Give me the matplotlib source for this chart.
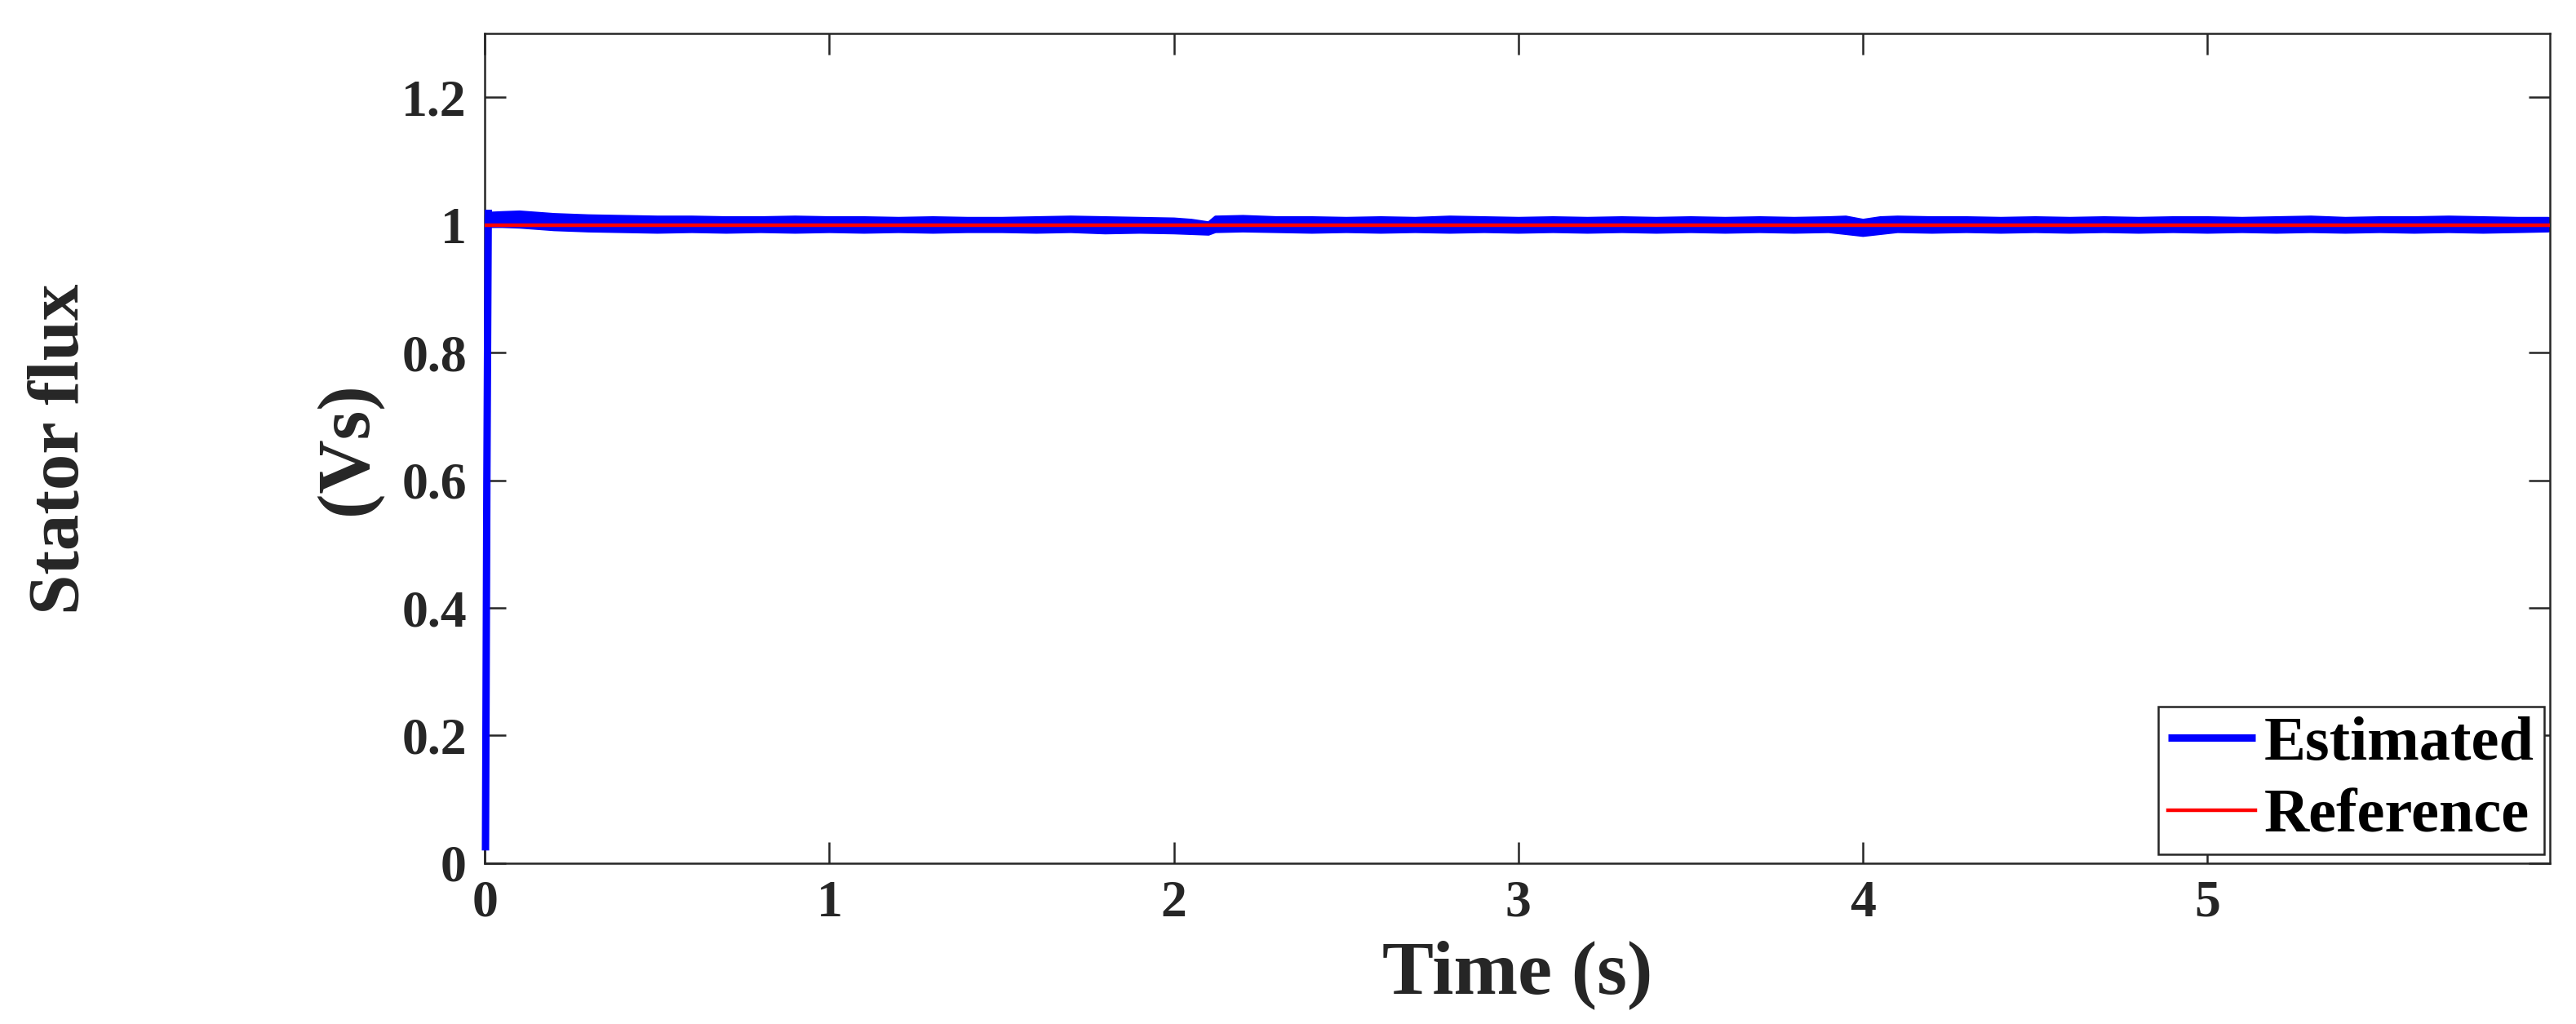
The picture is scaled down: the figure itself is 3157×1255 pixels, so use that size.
import matplotlib
matplotlib.use("Agg")
import matplotlib.pyplot as plt

plt.rcParams['font.family'] = ['Liberation Serif', 'DejaVu Serif']
plt.rcParams['font.weight'] = 'bold'

# start-up of the estimated flux
t_start = [0.002, 0.006, 0.010]
est_start = [0.02, 0.60, 1.015]

# ripple band of the estimated flux (upper / lower envelope)
t_band = [0.01, 0.05, 0.1, 0.15, 0.2, 0.25, 0.3, 0.4, 0.5, 0.6,
          0.7, 0.8, 0.9, 1.0, 1.1, 1.2, 1.3, 1.4, 1.5, 1.6,
          1.7, 1.8, 1.9, 2.0, 2.05, 2.1, 2.12, 2.2, 2.3, 2.4,
          2.5, 2.6, 2.7, 2.8, 2.9, 3.0, 3.1, 3.2, 3.3, 3.4,
          3.5, 3.6, 3.7, 3.8, 3.9, 3.95, 4.0, 4.05, 4.1, 4.2,
          4.3, 4.4, 4.5, 4.6, 4.7, 4.8, 4.9, 5.0, 5.1, 5.2,
          5.3, 5.4, 5.5, 5.6, 5.7, 5.8, 5.9, 5.99]
est_upper = [1.019, 1.020, 1.021, 1.019, 1.017, 1.016, 1.015, 1.014, 1.013, 1.013,
             1.012, 1.012, 1.013, 1.012, 1.012, 1.011, 1.012, 1.011, 1.011, 1.012,
             1.013, 1.012, 1.011, 1.010, 1.008, 1.004, 1.013, 1.014, 1.012, 1.012,
             1.011, 1.012, 1.011, 1.013, 1.012, 1.011, 1.012, 1.011, 1.012, 1.011,
             1.012, 1.011, 1.012, 1.011, 1.012, 1.013, 1.008, 1.012, 1.013, 1.012,
             1.012, 1.011, 1.012, 1.011, 1.012, 1.011, 1.012, 1.012, 1.011, 1.012,
             1.013, 1.011, 1.012, 1.012, 1.013, 1.012, 1.011, 1.011]
est_lower = [0.998, 0.998, 0.997, 0.995, 0.993, 0.992, 0.991, 0.990, 0.989, 0.990,
             0.989, 0.990, 0.989, 0.990, 0.989, 0.990, 0.989, 0.990, 0.990, 0.989,
             0.990, 0.988, 0.989, 0.988, 0.987, 0.986, 0.990, 0.991, 0.990, 0.989,
             0.990, 0.989, 0.990, 0.989, 0.990, 0.989, 0.990, 0.989, 0.990, 0.989,
             0.990, 0.989, 0.990, 0.989, 0.990, 0.987, 0.984, 0.987, 0.990, 0.989,
             0.990, 0.989, 0.990, 0.989, 0.990, 0.989, 0.990, 0.989, 0.990, 0.989,
             0.990, 0.989, 0.990, 0.989, 0.990, 0.989, 0.990, 0.991]

# reference flux
t_ref = [0.0, 5.99]
ref = [1.0, 1.0]

x_ticks = [0, 1, 2, 3, 4, 5]
y_ticks = [0, 0.2, 0.4, 0.6, 0.8, 1.0, 1.2]
y_ticklabels = ['0', '0.2', '0.4', '0.6', '0.8', '1', '1.2']

dark = '#262626'

fig = plt.figure(figsize=(31.57, 12.55), dpi=100)
ax = fig.add_axes([0.1882, 0.157, 0.8017, 0.8104])

line_est, = ax.plot(t_start, est_start, color='blue', lw=6.5,
                    solid_capstyle='butt', label='Estimated', clip_on=False, zorder=4)
ax.fill_between(t_band, est_lower, est_upper, color='blue', lw=2.5)
ax.plot([t_start[-1], t_band[0]], [est_start[-1], est_upper[0]], color='blue', lw=6.5,
        clip_on=False, zorder=4)
line_ref, = ax.plot(t_ref, ref, color='red', lw=3.2, label='Reference', zorder=5)

ax.set_xlim(0, 5.995)
ax.set_ylim(0, 1.3)
ax.set_xticks(x_ticks)
ax.set_xticklabels([str(v) for v in x_ticks])
ax.set_yticks(y_ticks)
ax.set_yticklabels(y_ticklabels)

for sp in ax.spines.values():
    sp.set_color(dark)
    sp.set_linewidth(1.8)
ax.tick_params(direction='in', top=True, right=True, length=19, width=1.8,
               color=dark, labelcolor=dark, labelsize=46)
ax.tick_params(axis='x', pad=15)
ax.tick_params(axis='y', pad=16)
for lab in ax.get_xticklabels() + ax.get_yticklabels():
    lab.set_fontweight('bold')

fig.text(1860 / 3157, (1255 - 1217) / 1255, 'Time (s)', ha='center', va='baseline',
         fontsize=68, fontweight='bold', color=dark)
fig.text(74 / 3157, 1 - 550 / 1255, 'Stator flux', rotation=90, ha='center', va='center',
         fontsize=64, fontweight='bold', color=dark)
fig.text(427 / 3157, 1 - 550 / 1255, '(Vs)', rotation=90, ha='center', va='center',
         fontsize=66, fontweight='bold', color=dark)

leg = ax.legend(handles=[line_est, line_ref], loc='lower right',
                bbox_to_anchor=(0.997, 0.011), borderaxespad=0,
                fancybox=False, framealpha=1, edgecolor=dark,
                prop={'size': 55, 'weight': 'bold'},
                handlelength=1.4, handletextpad=0.15, labelspacing=0.25,
                borderpad=0.15)
leg.get_frame().set_linewidth(1.8)

fig.savefig('out.png', dpi=100)
